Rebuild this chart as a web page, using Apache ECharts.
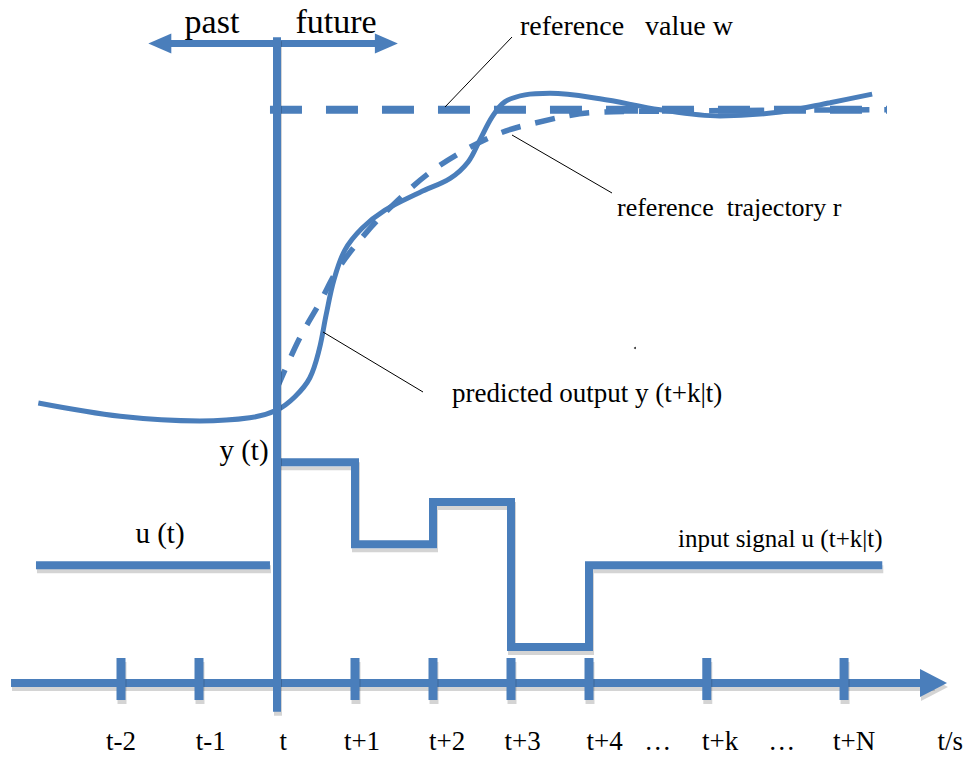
<!DOCTYPE html>
<html><head><meta charset="utf-8">
<script src="https://cdn.jsdelivr.net/npm/echarts@6/dist/echarts.min.js"></script>
<style>html,body{margin:0;padding:0;background:#fff}#chart{width:970px;height:757px}</style>
</head><body><div id="chart"></div>
<script>
// ---------- data (x: sampling steps relative to t, y: signal level in arbitrary units) ----------
const tickSteps = [-2, -1, 1, 2, 3, 4, 5.51, 7.27];
const tickLabels = ['t-2', 't-1', 't', 't+1', 't+2', 't+3', 't+4', '…', 't+k', '…', 't+N', 't/s'];
const tickLabelSteps = [-2.0, -0.85, 0.08, 1.09, 2.18, 3.15, 4.2, 4.88, 5.68, 6.47, 7.4, 8.63];
const timeAxisRange = [-3.41, 8.59];
const nowLineRange = [-0.37, 8.28];
const pastFutureRange = [-1.65, 1.55];
const pastFutureLevel = 8.2;
const referenceValueW = 7.35;
const referenceValueRange = [-0.09, 7.82];
const referenceTrajectory = [[0,3.78],[0.28,4.40],[0.55,4.88],[0.79,5.32],[1.15,5.78],[1.54,6.18],[1.94,6.53],[2.37,6.81],[2.86,7.05],[3.31,7.18],[4.01,7.31],[4.78,7.33],[7.82,7.35]];
const predictedOutput = [[-3.06,3.59],[-2.01,3.42],[-0.99,3.36],[-0.35,3.40],[0,3.50],[0.23,3.67],[0.42,3.91],[0.54,4.27],[0.63,4.72],[0.73,5.17],[0.87,5.55],[1.09,5.83],[1.38,6.06],[1.83,6.29],[2.22,6.47],[2.45,6.68],[2.60,6.96],[2.76,7.26],[2.92,7.45],[3.18,7.54],[3.50,7.56],[4.14,7.49],[4.91,7.35],[5.68,7.27],[6.45,7.32],[7.09,7.44],[7.63,7.55]];
const inputPastLevel = 1.51;
const inputPastRange = [-3.09, -0.09];
const inputFuture = [[0,2.83],[1,1.78],[2,2.32],[3,0.46],[4,1.51],[7.76,1.51]];

// ---------- layout ----------
const W = 970, H = 757, PX = 78, OX = 277, OY = 683;
const BLUE = '#4A7EBB';
const SHADE = 'rgba(0,0,0,0.17)';
const FONT = "'Liberation Serif','Times New Roman',serif";

const chart = echarts.init(document.getElementById('chart'), null, {renderer:'svg', width:W, height:H});
const lineBase = {type:'line', showSymbol:false, symbol:'none', silent:true, animation:false};

// straight segments drawn through the axes, with a flat offset shadow
function segmentSeries(segs, width, shadow, z) {
  return {type:'custom', silent:true, z:z, data:segs,
    renderItem:(p, api)=>{
      const a = api.coord([api.value(0), api.value(1)]);
      const b = api.coord([api.value(2), api.value(3)]);
      const children = [];
      if (shadow) children.push({type:'line', shape:{x1:a[0]+1,y1:a[1]+4,x2:b[0]+1,y2:b[1]+4},
        style:{stroke:SHADE, lineWidth:width, lineCap:'butt'}});
      children.push({type:'line', shape:{x1:a[0],y1:a[1],x2:b[0],y2:b[1]},
        style:{stroke:BLUE, lineWidth:width, lineCap:'butt'}});
      return {type:'group', children:children};
    }};
}

const option = {
  animation:false,
  grid:{left:0, right:0, top:0, bottom:0},
  xAxis:{type:'value', min:-OX/PX, max:(W-OX)/PX, show:false},
  yAxis:{type:'value', min:(OY-H)/PX, max:OY/PX, show:false},
  series:[
    // time axis
    segmentSeries([[timeAxisRange[0],0,timeAxisRange[1]-0.17,0]], 8, true, 2),
    // ticks
    {type:'custom', silent:true, z:2, data:tickSteps.map(s=>[s,0]),
      renderItem:(p, api)=>{ const c = api.coord([api.value(0), api.value(1)]);
        return {type:'group', children:[
          {type:'rect', shape:{x:c[0]-3.5, y:c[1]-21, width:9, height:42}, style:{fill:SHADE}},
          {type:'rect', shape:{x:c[0]-4.5, y:c[1]-25, width:9, height:42}, style:{fill:BLUE}}]}; }},
    // arrowheads
    {type:'custom', silent:true, z:3,
      data:[[timeAxisRange[1],0,1],[pastFutureRange[0],pastFutureLevel,-1],[pastFutureRange[1],pastFutureLevel,1]],
      renderItem:(p, api)=>{ const c = api.coord([api.value(0), api.value(1)]); const d = api.value(2);
        const big = p.dataIndex === 0; const len = big ? 27 : 23, hw = big ? 14 : 10;
        const pts = (dx, dy)=>[[c[0]+dx,c[1]+dy],[c[0]-d*len+dx,c[1]-hw+dy],[c[0]-d*len+dx,c[1]+hw+dy]];
        const ch = [];
        if (big) ch.push({type:'polygon', shape:{points:pts(1,4)}, style:{fill:SHADE}});
        ch.push({type:'polygon', shape:{points:pts(0,0)}, style:{fill:BLUE}});
        return {type:'group', children:ch}; }},
    // past/future line
    segmentSeries([[pastFutureRange[0]+0.15,pastFutureLevel,pastFutureRange[1]-0.15,pastFutureLevel]], 7, false, 2),
    // now line (t)
    segmentSeries([[0,nowLineRange[0],0,nowLineRange[1]]], 8, true, 4),
    // input, past
    segmentSeries([[inputPastRange[0],inputPastLevel,inputPastRange[1],inputPastLevel]], 8, true, 2),
    // reference value w
    Object.assign({}, lineBase, {data:[[referenceValueRange[0],referenceValueW],[referenceValueRange[1],referenceValueW]],
      lineStyle:{color:BLUE, width:8, type:[32,24], cap:'butt'}, z:3}),
    // reference trajectory r
    Object.assign({}, lineBase, {data:referenceTrajectory, smooth:0.35,
      lineStyle:{color:BLUE, width:5.5, type:[20,15]}, z:3}),
    // predicted output
    Object.assign({}, lineBase, {data:predictedOutput, smooth:0.35,
      lineStyle:{color:BLUE, width:5}, z:3}),
    // input future (piecewise constant)
    Object.assign({}, lineBase, {data:inputFuture, step:'end',
      lineStyle:{color:BLUE, width:8, cap:'butt', join:'miter',
        shadowColor:SHADE, shadowOffsetX:1, shadowOffsetY:4, shadowBlur:1}, z:2}),
    // tick labels
    {type:'custom', silent:true, z:5, data:tickLabelSteps.map((s,i)=>[s,-0.74,i]),
      renderItem:(p, api)=>{ const c = api.coord([api.value(0), api.value(1)]);
        return {type:'text', style:{text:tickLabels[api.value(2)], x:c[0], y:c[1], font:'27px '+FONT,
          fill:'#000', align:'center', verticalAlign:'middle'}}; }}
  ],
  graphic:[
    {type:'line', shape:{x1:445,y1:107,x2:512,y2:37}, style:{stroke:'#000', lineWidth:1}, z:10},
    {type:'line', shape:{x1:512,y1:135,x2:612,y2:193}, style:{stroke:'#000', lineWidth:1}, z:10},
    {type:'line', shape:{x1:323,y1:332,x2:423,y2:392}, style:{stroke:'#000', lineWidth:1}, z:10},
    {type:'circle', shape:{cx:635, cy:348, r:1}, style:{fill:'#333'}, z:10},
    {type:'text', x:212, y:21, style:{text:'past', font:'34px '+FONT, fill:'#000', align:'center', verticalAlign:'middle'}, z:10},
    {type:'text', x:336, y:21, style:{text:'future', font:'34px '+FONT, fill:'#000', align:'center', verticalAlign:'middle'}, z:10},
    {type:'text', x:520, y:25, style:{text:'reference\u00a0\u00a0 value w', font:'28px '+FONT, fill:'#000', align:'left', verticalAlign:'middle'}, z:10},
    {type:'text', x:617, y:207, style:{text:'reference\u00a0 trajectory r', font:'26px '+FONT, fill:'#000', align:'left', verticalAlign:'middle'}, z:10},
    {type:'text', x:452, y:393, style:{text:'predicted output y (t+k|t)', font:'27px '+FONT, fill:'#000', align:'left', verticalAlign:'middle'}, z:10},
    {type:'text', x:244, y:450, style:{text:'y (t)', font:'29px '+FONT, fill:'#000', align:'center', verticalAlign:'middle'}, z:10},
    {type:'text', x:160, y:533, style:{text:'u (t)', font:'29px '+FONT, fill:'#000', align:'center', verticalAlign:'middle'}, z:10},
    {type:'text', x:678, y:538, style:{text:'input signal u (t+k|t)', font:'25px '+FONT, fill:'#000', align:'left', verticalAlign:'middle'}, z:10}
  ]
};
chart.setOption(option);
</script></body></html>
